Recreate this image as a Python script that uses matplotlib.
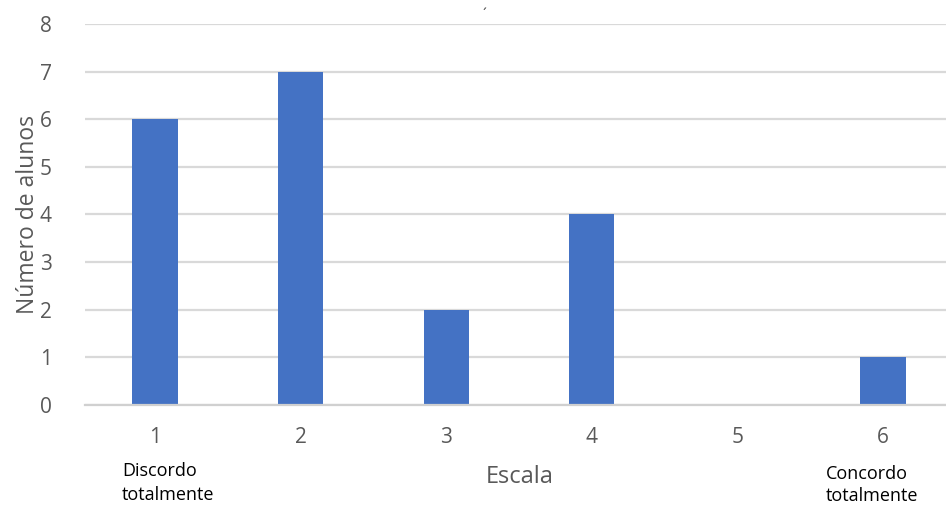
import matplotlib.pyplot as plt

# dados do gráfico
escala = [1, 2, 3, 4, 5, 6]
alunos = [6, 7, 2, 4, 0, 1]
y_ticks = [0, 1, 2, 3, 4, 5, 6, 7, 8]

plt.rcParams['font.family'] = ['Open Sans', 'DejaVu Sans']

fig = plt.figure(figsize=(9.46, 5.07), dpi=100)
ax = fig.add_axes([85 / 946, 0.2012, 861 / 946, 0.7515])

ax.bar(escala, alunos, width=0.31, color='#4472C4', zorder=3)

ax.set_xlim(0.519, 6.433)
ax.set_ylim(0, 8)
ax.set_yticks(y_ticks)
ax.set_xticks(escala)
ax.tick_params(axis='both', length=0, labelsize=15, colors='#595959')
ax.tick_params(axis='x', pad=16)
ax.tick_params(axis='y', pad=24)

ax.grid(True, axis='y', color='#d9d9d9', linewidth=1.6, zorder=0)
for side in ['top', 'right', 'left']:
    ax.spines[side].set_visible(False)
ax.spines['bottom'].set_color('#d0d0d0')
ax.spines['bottom'].set_linewidth(1.6)
ax.spines['bottom'].set_zorder(4)

ax.set_ylabel('Número de alunos', fontsize=16.5, color='#595959', labelpad=0)
fig.text(520 / 946, 1 - 477 / 507, 'Escala', fontsize=17, color='#595959',
         ha='center', va='center')

fig.text(122 / 946, 1 - 471 / 507, 'Discordo', fontsize=13, color='black',
         ha='left', va='center')
fig.text(122 / 946, 1 - 495 / 507, 'totalmente', fontsize=13, color='black',
         ha='left', va='center')
fig.text(826 / 946, 1 - 474 / 507, 'Concordo', fontsize=13, color='black',
         ha='left', va='center')
fig.text(826 / 946, 1 - 496 / 507, 'totalmente', fontsize=13, color='black',
         ha='left', va='center')

fig.text(484 / 946, 1 - 16 / 507, '´', fontsize=10, color='#404040',
         ha='center', va='center')

fig.savefig('out.png', dpi=100)
